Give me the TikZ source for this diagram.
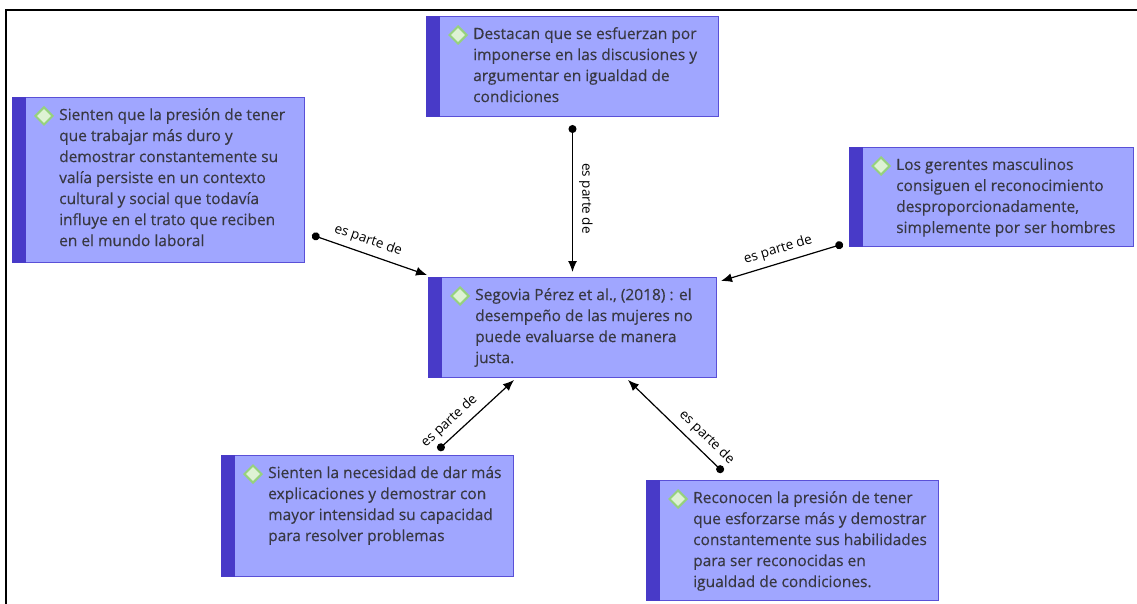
\documentclass[tikz,border=0pt]{standalone}
\usepackage{fontspec}
\setmainfont{Open Sans}
\newfontfamily\notefont{Open Sans}[FakeBold=0.3]
\usetikzlibrary{arrows.meta,calc,shapes.geometric}
\definecolor{boxfill}{RGB}{160,166,255}
\definecolor{boxline}{RGB}{90,80,215}
\definecolor{boxstrip}{RGB}{72,58,200}
\definecolor{gemfill}{RGB}{222,242,212}
\definecolor{gemline}{RGB}{150,210,125}
\definecolor{ink}{RGB}{56,56,66}

\tikzset{
  idea/.style={draw=boxline, fill=boxfill, line width=1pt, inner sep=0pt},
  strip/.style={fill=boxstrip},
  gem/.style={diamond, draw=gemline, fill=gemfill, line width=2pt, minimum size=18pt, inner sep=0pt},
  txt/.style={text=ink, align=left, inner sep=0pt, font=\notefont\fontsize{15.5}{21}\selectfont},
  link/.style={{Circle[length=8pt]}-{Latex[length=11pt,width=9pt]}, line width=1.2pt},
  lbl/.style={font=\fontsize{13.5}{15}\selectfont, sloped, above, midway, inner sep=6pt}
}
% name, north west corner, width, height, text
\newcommand{\ideabox}[5]{%
  \node[idea, anchor=north west, minimum width=#3, minimum height=#4] (#1) at #2 {};
  \fill[strip] (#1.north west) rectangle ([xshift=14pt]#1.south west);
  \node[gem] (#1-gem) at ([xshift=32pt,yshift=-19pt]#1.north west) {};
  \node[txt, anchor=north west] (#1-txt) at ([xshift=47pt,yshift=-11pt]#1.north west) {#5};
}

\begin{document}
\begin{tikzpicture}[x=1pt,y=-1pt]
  \useasboundingbox (0,0) rectangle (1137,604);
  \draw[line width=2pt] (6,604) -- (6,10) -- (1137,10);

  \ideabox{top}{(426,16)}{292pt}{100pt}{Destacan que se esfuerzan por\\imponerse en las discusiones y\\argumentar en igualdad de\\condiciones}
  \ideabox{lft}{(12,97)}{292pt}{165pt}{Sienten que la presión de tener\\que trabajar más duro y\\demostrar constantemente su\\valía persiste en un contexto\\cultural y social que todavía\\influye en el trato que reciben\\en el mundo laboral}
  \ideabox{rgt}{(849,147)}{284pt}{99pt}{Los gerentes masculinos\\consiguen el reconocimiento\\desproporcionadamente,\\simplemente por ser hombres}
  \ideabox{ctr}{(428,277)}{288pt}{100pt}{Segovia Pérez et al., (2018) : el\\desempeño de las mujeres no\\puede evaluarse de manera\\justa.}
  \ideabox{bl}{(221,455)}{292pt}{121pt}{Sienten la necesidad de dar más\\explicaciones y demostrar con\\mayor intensidad su capacidad\\para resolver problemas}
  \ideabox{br}{(646,480)}{292pt}{120pt}{Reconocen la presión de tener\\que esforzarse más y demostrar\\constantemente sus habilidades\\para ser reconocidas en\\igualdad de condiciones.}

  \draw[link] ($(top.south)+(0,8)$) -- node[lbl] {es parte de} ($(ctr.north)+(0,-5)$);
  \draw[link] ($(lft.south east)+(7,-28)$) -- node[lbl, pos=.45] {es parte de} ($(ctr.north west)+(-1,-2)$);
  \draw[link] ($(rgt.south west)+(-6,-3)$) -- node[lbl] {es parte de} ($(ctr.north east)+(4,4)$);
  \draw[link] ($(bl.north west)+(217,-5)$) -- node[lbl, pos=.27] {es parte de} ($(ctr.south west)+(86,2)$);
  \draw[link] ($(br.north west)+(77,-8)$) -- node[lbl, pos=.27] {es parte de} ($(ctr.south east)+(-89,2)$);
\end{tikzpicture}
\end{document}
